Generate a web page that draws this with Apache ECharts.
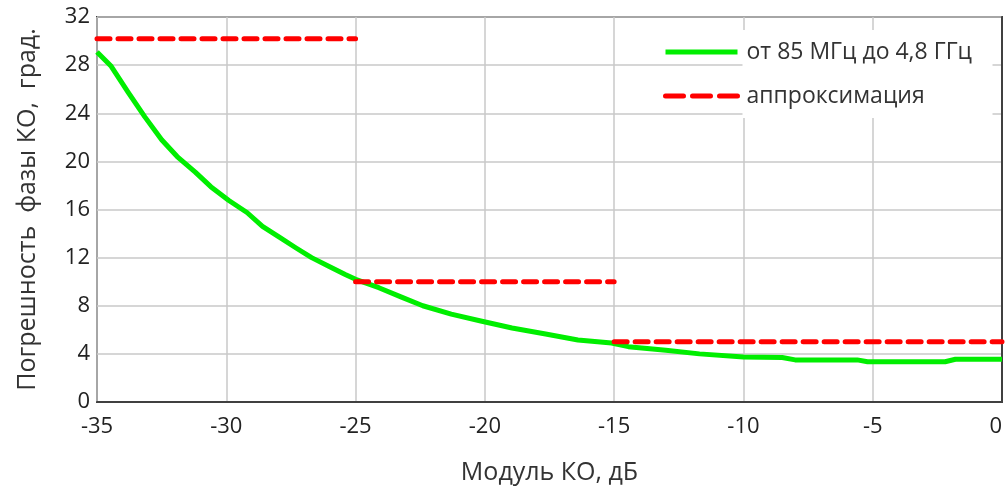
<!DOCTYPE html>
<html>
<head>
<meta charset="utf-8">
<script src="https://cdn.jsdelivr.net/npm/echarts@6/dist/echarts.min.js"></script>
<style>
html,body{margin:0;padding:0;background:#fff;}
#chart{width:1005px;height:495px;}
</style>
</head>
<body>
<div id="chart"></div>
<script>
const seriesNames = ['от 85 МГц до 4,8 ГГц', 'аппроксимация'];
const xAxisTitle = 'Модуль КО, дБ';
const yAxisTitle = 'Погрешность  фазы КО,  град.';

// Measured curve: [Модуль КО, дБ ; Погрешность, град.]
const measuredX = [-35, -34.45, -33.8, -33.15, -32.5, -31.9, -31.2, -30.6, -29.9, -29.2, -28.6, -27.95, -27.3, -26.7, -26.0, -25.4, -25, -24.1, -23.2, -22.4, -21.3, -20.2, -18.95, -17.65, -16.4, -15.1, -14.45, -13, -11.7, -10, -8.5, -8, -5.6, -5.2, -2.2, -1.8, 0];
const measuredY = [29.1, 27.9, 25.75, 23.7, 21.8, 20.4, 19.1, 17.9, 16.75, 15.75, 14.6, 13.7, 12.8, 12.0, 11.25, 10.6, 10.2, 9.5, 8.7, 8.0, 7.3, 6.75, 6.15, 5.65, 5.15, 4.9, 4.6, 4.3, 4.0, 3.75, 3.7, 3.5, 3.5, 3.35, 3.35, 3.55, 3.55];

// Piecewise-constant approximation segments
const approxStart = [-35, -25, -15];
const approxEnd = [-25, -15, 0];
const approxValue = [30.2, 10, 5];

const xTicks = { min: -35, max: 0, interval: 5 };
const yTicks = { min: 0, max: 32, interval: 4 };

const FONT = '"Open Sans", "Noto Sans", sans-serif';
const chart = echarts.init(document.getElementById('chart'), null, { renderer: 'canvas' });

const measuredData = measuredX.map((x, i) => [x, measuredY[i]]);
const approxSeries = approxStart.map((s, i) => ({
  name: seriesNames[1],
  type: 'line',
  symbol: 'none',
  data: [[s, approxValue[i]], [approxEnd[i], approxValue[i]]],
  lineStyle: { color: '#ff0000', width: 5, type: [13, 8], cap: 'round' },
  itemStyle: { color: '#ff0000' },
  z: 3
}));

chart.setOption({
  animation: false,
  backgroundColor: '#ffffff',
  grid: {
    left: 97, right: 2, top: 17, bottom: 93,
    show: true, borderColor: '#404040', borderWidth: 2
  },
  legend: {
    orient: 'vertical',
    left: 658, top: 25,
    itemWidth: 72, itemHeight: 14, itemGap: 0,
    data: [
      { name: seriesNames[0] },
      { name: seriesNames[1], lineStyle: { type: [18, 9] } }
    ],
    itemStyle: { opacity: 0 },
    lineStyle: { width: 5 },
    textStyle: {
      fontFamily: FONT, fontSize: 23, color: '#333',
      backgroundColor: '#ffffff',
      width: 240, lineHeight: 24,
      padding: [10, 6, 10, 4]
    }
  },
  xAxis: {
    type: 'value',
    min: xTicks.min, max: xTicks.max, interval: xTicks.interval,
    name: xAxisTitle, nameLocation: 'middle', nameGap: 58,
    nameTextStyle: { fontFamily: FONT, fontSize: 25, color: '#333' },
    axisLine: { show: true, lineStyle: { color: '#404040', width: 2 } },
    axisTick: { show: false },
    axisLabel: { fontFamily: FONT, fontSize: 22, color: '#222', margin: 14, alignMaxLabel: 'right' },
    splitLine: { show: true, lineStyle: { color: '#c8c8c8', width: 1.5 } }
  },
  yAxis: {
    type: 'value',
    min: yTicks.min, max: yTicks.max, interval: yTicks.interval,
    name: yAxisTitle, nameLocation: 'middle', nameGap: 57, nameRotate: 90,
    nameTextStyle: { fontFamily: FONT, fontSize: 25, color: '#333' },
    axisLine: { show: true, lineStyle: { color: '#404040', width: 2 } },
    axisTick: { show: false },
    axisLabel: { fontFamily: FONT, fontSize: 22, color: '#222', margin: 7 },
    splitLine: { show: true, lineStyle: { color: '#c8c8c8', width: 1.5 } }
  },
  series: [
    {
      name: seriesNames[0],
      type: 'line',
      symbol: 'none',
      data: measuredData,
      lineStyle: { color: '#00ee00', width: 5, join: 'round' },
      itemStyle: { color: '#00ee00' },
      z: 2
    }
  ].concat(approxSeries)
});
</script>
</body>
</html>
